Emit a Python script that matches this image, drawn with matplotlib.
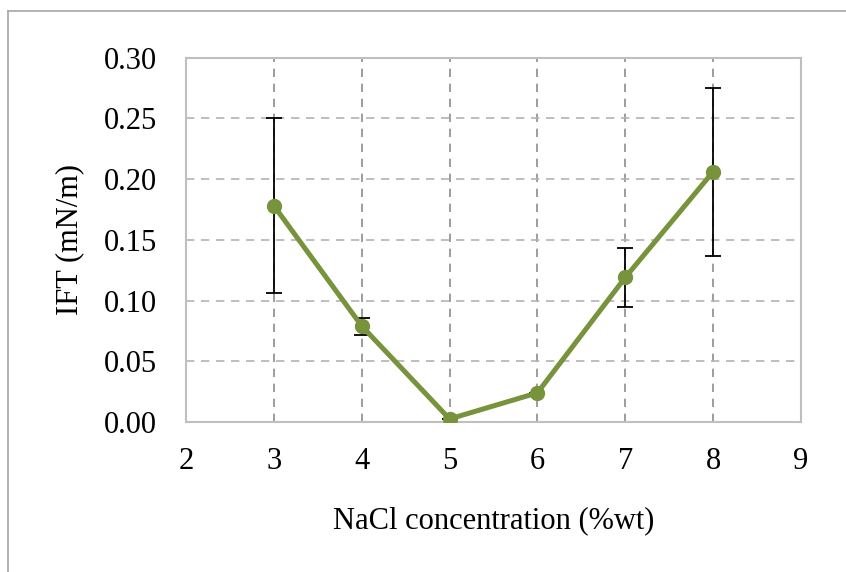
import matplotlib
matplotlib.use("Agg")
import matplotlib.pyplot as plt
from matplotlib.lines import Line2D

# NaCl concentration (%wt) and IFT (mN/m) with error bars
nacl = [3, 4, 5, 6, 7, 8]
ift = [0.178, 0.079, 0.0025, 0.024, 0.119, 0.206]
ift_err = [0.072, 0.007, 0.0, 0.0, 0.024, 0.069]
x_ticks = [2, 3, 4, 5, 6, 7, 8, 9]
y_ticks = [0.00, 0.05, 0.10, 0.15, 0.20, 0.25, 0.30]

plt.rcParams['font.family'] = ['Liberation Serif', 'DejaVu Serif']

fig = plt.figure(figsize=(8.46, 5.72), dpi=100)
ax = fig.add_axes([186 / 846, 1 - 422 / 572, (801 - 186) / 846, (422 - 57.5) / 572])

# outer frame (top and left only visible)
fig.add_artist(Line2D([7.5 / 846, 7.5 / 846], [0, 1 - 11 / 572], transform=fig.transFigure,
                      color='#a6a6a6', lw=1.2))
fig.add_artist(Line2D([7.5 / 846, 1], [1 - 11 / 572, 1 - 11 / 572], transform=fig.transFigure,
                      color='#a6a6a6', lw=1.2))

ax.errorbar(nacl, ift, yerr=ift_err, fmt='none', ecolor='black', elinewidth=1.3,
            capsize=6, capthick=1.3, zorder=3)
ax.plot(nacl, ift, color='#77933C', lw=3.6, marker='o', markersize=10, zorder=4)

ax.set_xlim(2, 9)
ax.set_ylim(0, 0.30)
ax.set_xticks(x_ticks)
ax.set_yticks(y_ticks)
ax.set_yticklabels([f'{v:.2f}' for v in y_ticks])

ax.xaxis.grid(True, linestyle=(0, (5, 4)), color='#8c8c8c', lw=1.2)
ax.yaxis.grid(True, linestyle=(0, (5, 4)), color='#b3b3b3', lw=1.2)
ax.set_axisbelow(True)
for s in ax.spines.values():
    s.set_color('#bfbfbf')
    s.set_linewidth(1.5)

ax.tick_params(axis='both', length=0, labelsize=22)
ax.tick_params(axis='y', pad=21)
ax.tick_params(axis='x', pad=18)

ax.set_xlabel('NaCl concentration (%wt)', fontsize=22, labelpad=22)
ax.set_ylabel('IFT (mN/m)', fontsize=22, labelpad=14)

fig.savefig('out.png', dpi=100)
